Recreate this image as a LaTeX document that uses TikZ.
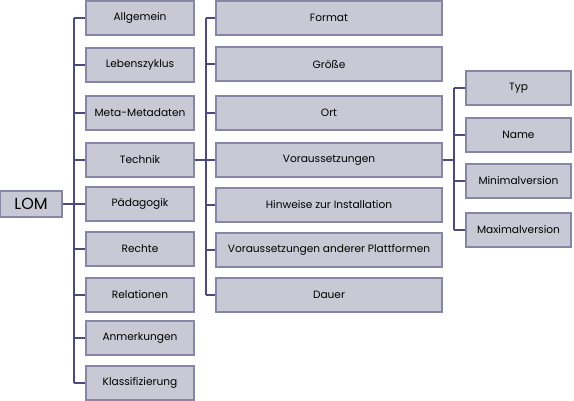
\documentclass[tikz,border=0pt]{standalone}
\usepackage{fontspec}
\setmainfont{Poppins}
\definecolor{boxfill}{HTML}{C9C9D6}
\definecolor{boxline}{HTML}{8686A6}
\definecolor{treeline}{HTML}{4B4B80}
\tikzset{
    lombox/.style={draw=boxline, fill=boxfill, line width=1.2pt, minimum height=34pt,
        inner sep=0pt, font=\fontsize{10.6}{12}\selectfont},
    conn/.style={treeline, line width=1.8pt}
}

\begin{document}
\begin{tikzpicture}[x=1pt,y=-1pt]
    \useasboundingbox (0,0) rectangle (574,401);
    % Root
    \node[lombox, minimum width=62pt, minimum height=26pt, font=\fontsize{16}{18}\selectfont]
        (lom) at (31,204) {LOM};
    % First level
    \foreach \n/\y/\txt in {1/18/Allgemein, 2/65/Lebenszyklus, 3/113/Meta-Metadaten,
        4/160/Technik, 5/204/Pädagogik, 6/249/Rechte, 7/295/Relationen,
        8/338/Anmerkungen, 9/383/Klassifizierung} {
        \node[lombox, minimum width=108pt] (a\n) at (140,\y) {\txt};
    }
    % Second level (Technik)
    \foreach \n/\y/\txt in {1/18/Format, 2/64/Größe, 3/113/Ort, 4/160/Voraussetzungen,
        5/205/Hinweise zur Installation, 6/250/Voraussetzungen anderer Plattformen,
        7/295/Dauer} {
        \node[lombox, minimum width=226pt] (t\n) at (329,\y) {\txt};
    }
    % Third level (Voraussetzungen)
    \foreach \n/\y/\txt in {1/88/Typ, 2/135/Name, 3/181/Minimalversion, 4/230/Maximalversion} {
        \node[lombox, minimum width=105pt] (v\n) at (518.5,\y) {\txt};
    }
    % Trunks
    \coordinate (ba) at (74,0);
    \coordinate (bt) at (206,0);
    \coordinate (bv) at (454,0);
    \draw[conn] (lom.east) -- (lom.east -| ba);
    \draw[conn] (ba |- a1.west) -- (ba |- a9.west);
    \foreach \n in {1,...,9} \draw[conn] (a\n.west -| ba) -- (a\n.west);
    \draw[conn] (a4.east) -- (a4.east -| bt);
    \draw[conn] (bt |- t1.west) -- (bt |- t7.west);
    \foreach \n in {1,...,7} \draw[conn] (t\n.west -| bt) -- (t\n.west);
    \draw[conn] (t4.east) -- (t4.east -| bv);
    \draw[conn] (bv |- v1.west) -- (bv |- v4.west);
    \foreach \n in {1,...,4} \draw[conn] (v\n.west -| bv) -- (v\n.west);
\end{tikzpicture}
\end{document}
